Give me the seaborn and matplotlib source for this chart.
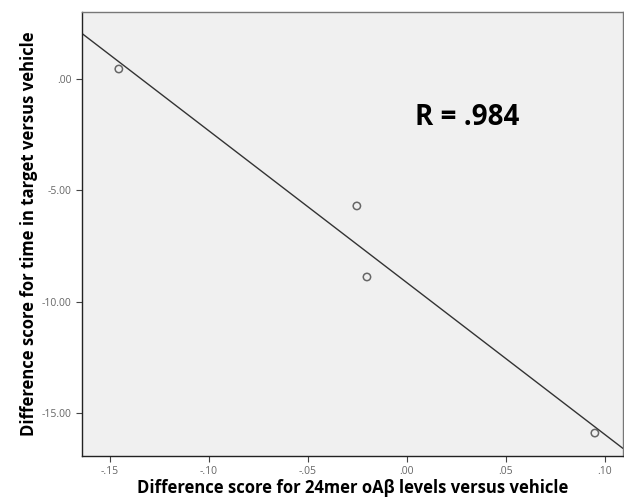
import matplotlib
matplotlib.use("Agg")
import matplotlib.pyplot as plt
import seaborn as sns
import pandas as pd

# Difference scores (treated minus vehicle)
oab_diff = [-0.1455, -0.0253, -0.0202, 0.0949]
time_diff = [0.45, -5.70, -8.89, -15.90]
x_ticks = [-0.15, -0.10, -0.05, 0.00, 0.05, 0.10]
x_tick_labels = ["-.15", "-.10", "-.05", ".00", ".05", ".10"]
y_ticks = [0.0, -5.0, -10.0, -15.0]
y_tick_labels = [".00", "-5.00", "-10.00", "-15.00"]
r_label = "R = .984"

df = pd.DataFrame({"oab": oab_diff, "time": time_diff})

sns.set_style("ticks")
plt.rcParams["font.family"] = ["Open Sans", "DejaVu Sans"]

fig = plt.figure(figsize=(6.24, 4.98), dpi=100)
ax = fig.add_axes([82 / 624, 42 / 498, 541 / 624, 444 / 498])
ax.set_facecolor("#f0f0f0")

ax.set_xlim(-0.1641, 0.1091)
ax.set_ylim(-16.93, 3.01)

sns.regplot(data=df, x="oab", y="time", ax=ax, ci=None, truncate=False,
            scatter_kws=dict(s=28, facecolors="none", edgecolors="#444444", linewidths=1.1),
            line_kws=dict(color="#333333", lw=1.0))

ax.set_xticks(x_ticks)
ax.set_xticklabels(x_tick_labels)
ax.set_yticks(y_ticks)
ax.set_yticklabels(y_tick_labels)
ax.tick_params(axis="both", labelsize=7.5, labelcolor="#666666", color="#444444",
               length=4, width=0.8, direction="out")

for side in ["left", "bottom"]:
    ax.spines[side].set_color("#222222")
    ax.spines[side].set_linewidth(1.0)
for side in ["top", "right"]:
    ax.spines[side].set_visible(True)
    ax.spines[side].set_color("#777777")
    ax.spines[side].set_linewidth(1.0)

ax.set_xlabel("Difference score for 24mer oA\u03b2 levels versus vehicle",
              fontsize=12, fontweight="bold", color="black", labelpad=1)
ax.set_ylabel("Difference score for time in target versus vehicle",
              fontsize=12, fontweight="bold", color="black", labelpad=3)

ax.text(0.0303, -1.71, r_label, fontsize=20, fontweight="bold", color="black",
        ha="center", va="center")

fig.savefig("out.png", dpi=100)
